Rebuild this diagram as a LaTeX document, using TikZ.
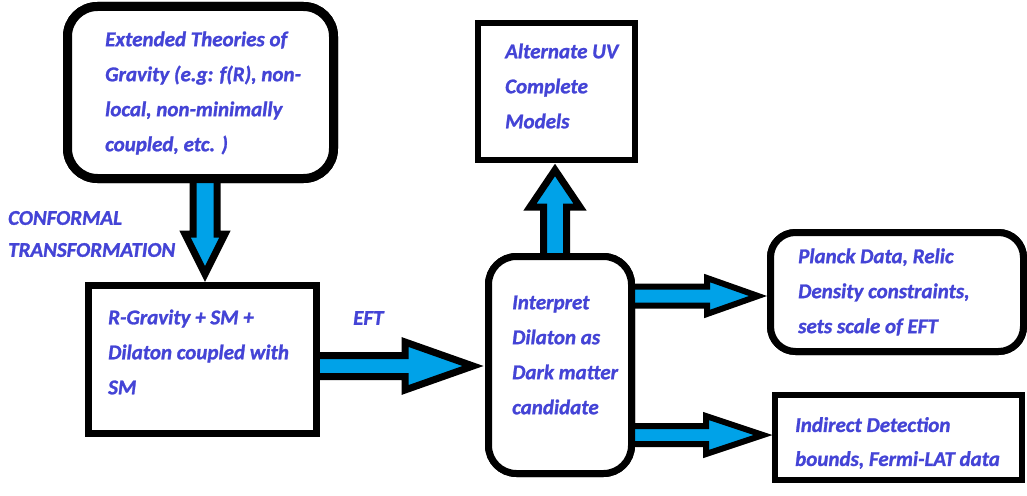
\documentclass[tikz,border=0pt]{standalone}
\usepackage{fontspec}
\setmainfont{Carlito}[BoldItalicFeatures={FakeBold=1.2}]
\usetikzlibrary{calc}
\definecolor{txtblue}{RGB}{68,68,214}
\definecolor{arrcyan}{RGB}{0,162,232}
\tikzset{
  txt/.style={font=\fontsize{21}{35}\selectfont\bfseries\itshape, text=txtblue, align=left, anchor=west, inner sep=0pt},
  boxbase/.style={draw=black, fill=white, inner sep=0pt},
  rbox/.style={boxbase, rounded corners=#1},
  sbox/.style={boxbase},
  barrow/.style={draw=black, fill=arrcyan, line join=miter},
}
% start, end, shaft half width, head half width, head length, line width
\newcommand\blockarr[6]{%
  \coordinate (hb) at ($(#2)!#5!(#1)$);
  \draw[barrow, line width=#6]
    ($(#1)!#3!90:(#2)$) -- ($(hb)!#3!-90:(#1)$) -- ($(hb)!#4!-90:(#1)$) --
    (#2) -- ($(hb)!#4!90:(#1)$) -- ($(hb)!#3!90:(#1)$) -- ($(#1)!#3!-90:(#2)$) -- cycle;
}
\begin{document}
\begin{tikzpicture}[x=1pt,y=-1pt]
\useasboundingbox[fill=white] (0,0) rectangle (1027,495);
% boxes
\node[rbox=30pt, line width=9pt, minimum width=266pt, minimum height=172pt] (b1) at (200.5,92.5) {};
\node[sbox, line width=7pt, minimum width=228pt, minimum height=148pt] (b2) at (202.5,359.5) {};
\node[rbox=28pt, line width=7pt, minimum width=143pt, minimum height=217pt] (b3) at (560,365) {};
\node[sbox, line width=6pt, minimum width=157pt, minimum height=137pt] (b4) at (556.5,91.5) {};
\node[rbox=25pt, line width=7pt, minimum width=253pt, minimum height=119pt] (b5) at (897,292) {};
\node[sbox, line width=6pt, minimum width=247pt, minimum height=85pt] (b6) at (898.5,437.5) {};

% arrow end points
\coordinate (a1s) at ($(b1.south)+(4.5,-4)$);
\coordinate (a1e) at ($(b2.north)+(2.5,-8)$);
\coordinate (a2s) at ($(b2.east)+(-4,6.5)$);
\coordinate (a2e) at ($(b3.west)+(-12,1)$);
\coordinate (a3s) at ($(b3.north)+(-5,4)$);
\coordinate (a3e) at ($(b4.south)+(-1.5,7)$);
\coordinate (a4s) at ($(b3.east)+(-4,-69)$);
\coordinate (a4e) at ($(b5.west)+(-9,4)$);
\coordinate (a5s) at ($(b3.east)+(-4,70)$);
\coordinate (a5e) at ($(b6.west)+(-9,-2.5)$);

\blockarr{a1s}{a1e}{12pt}{20pt}{40pt}{7pt}
\blockarr{a2s}{a2e}{10.5pt}{24pt}{68pt}{7pt}
\blockarr{a3s}{a3e}{11.5pt}{25pt}{37pt}{7pt}
\blockarr{a4s}{a4e}{9.5pt}{18pt}{51pt}{6pt}
\blockarr{a5s}{a5e}{9pt}{19pt}{57pt}{6pt}

% redraw boxes on top of arrow starts
\node[rbox=30pt, line width=9pt, minimum width=266pt, minimum height=172pt] (b1f) at (b1.center) {};
\node[sbox, line width=7pt, minimum width=228pt, minimum height=148pt] (b2f) at (b2.center) {};
\node[rbox=28pt, line width=7pt, minimum width=143pt, minimum height=217pt] (b3f) at (b3.center) {};
\node[sbox, line width=6pt, minimum width=157pt, minimum height=137pt] (b4f) at (b4.center) {};
\node[rbox=25pt, line width=7pt, minimum width=253pt, minimum height=119pt] (b5f) at (b5.center) {};
\node[sbox, line width=6pt, minimum width=247pt, minimum height=85pt] (b6f) at (b6.center) {};

% texts
\node[txt] (t1) at (105,93) {Extended Theories of\\Gravity (e.g: f(R), non-\\local, non-minimally\\coupled, etc. )};
\node[txt, font=\fontsize{21}{32}\selectfont\bfseries\itshape] (tc) at (8,234) {CONFORMAL\\TRANSFORMATION};
\node[txt] (t2) at (108,352) {R-Gravity + SM +\\Dilaton coupled with\\SM};
\node[txt] (te) at (353,318) {EFT};
\node[txt] (t3) at (512,355) {Interpret\\Dilaton as\\Dark matter\\candidate};
\node[txt] (t4) at (505,86) {Alternate UV\\Complete\\Models};
\node[txt] (t5) at (798,292) {Planck Data, Relic\\Density constraints,\\sets scale of EFT};
\node[txt, font=\fontsize{21}{34}\selectfont\bfseries\itshape] (t6) at (795,443) {Indirect Detection\\bounds, Fermi-LAT data};
\end{tikzpicture}
\end{document}
